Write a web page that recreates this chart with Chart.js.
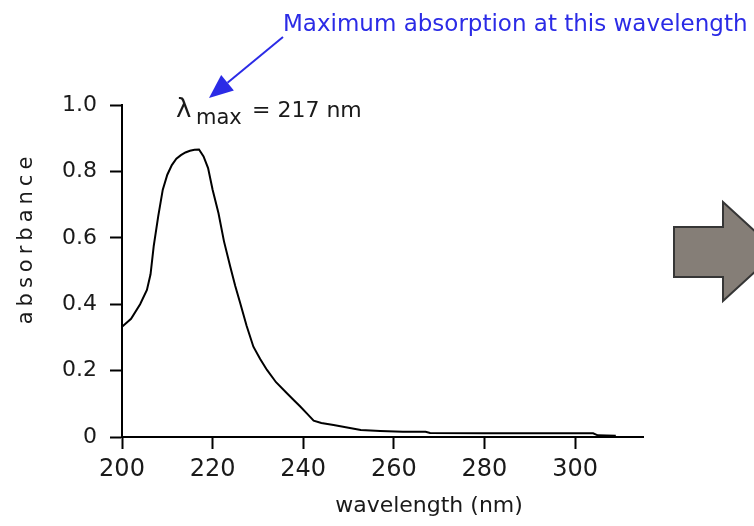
<!DOCTYPE html>
<html>
<head>
<meta charset="utf-8">
<title>UV absorption spectrum</title>
<script src="https://cdn.jsdelivr.net/npm/chart.js@4.4.1/dist/chart.umd.min.js"></script>
<style>
  html, body { margin: 0; padding: 0; background: #fff; }
  #wrap { position: relative; width: 754px; height: 526px; }
</style>
</head>
<body>
<div id="wrap"><canvas id="spectrum"></canvas></div>
<script>
// ---------------- spectrum data ----------------
// wavelength in nm, absorbance unitless
const wavelengths = [200, 202, 204, 205.5, 206.3, 207, 208, 209, 210, 211, 212, 213, 214, 215, 216, 217,
  218, 219, 220, 221.3, 222.5, 223.9, 225, 226.1, 227.5, 229, 230.5, 232, 234, 236.4, 238, 239.4, 241,
  242.3, 244, 246.7, 250, 252.7, 257, 262, 267, 268, 280, 295, 304, 305, 309]
const absorbance = [0.332, 0.356, 0.40, 0.443, 0.49, 0.575, 0.665, 0.745, 0.79, 0.819, 0.838, 0.849, 0.857,
  0.862, 0.865, 0.866, 0.845, 0.81, 0.745, 0.674, 0.59, 0.513, 0.455, 0.403, 0.335, 0.272, 0.235, 0.202,
  0.165, 0.132, 0.11, 0.091, 0.068, 0.049, 0.042, 0.036, 0.028, 0.021, 0.018, 0.016, 0.016, 0.012, 0.011,
  0.011, 0.011, 0.005, 0.004]

const xTicks = [200, 220, 240, 260, 280, 300]
const yTicks = [0, 0.2, 0.4, 0.6, 0.8, 1.0]
const lambdaMax = 217

const calloutText = 'Maximum absorption at this wavelength'
const xTitle = 'wavelength (nm)'
const yTitle = 'absorbance'

const FONT = '"DejaVu Sans", "Liberation Sans", sans-serif'
const INK = '#1a1a1a'

// ---------------- extra drawing: titles, callout, big arrow ----------------
const decorations = {
  id: 'decorations',
  afterDraw(chart) {
    const ctx = chart.ctx
    ctx.save()

    // blue callout and its arrow
    ctx.fillStyle = '#2b2be6'
    ctx.strokeStyle = '#2b2be6'
    ctx.font = `23px ${FONT}`
    ctx.textBaseline = 'alphabetic'
    ctx.textAlign = 'left'
    ctx.fillText(calloutText, 283, 31)

    const from = { x: 283, y: 37 }
    const tip = { x: 209, y: 98 }
    const dx = tip.x - from.x, dy = tip.y - from.y
    const len = Math.hypot(dx, dy)
    const ux = dx / len, uy = dy / len
    const headLen = 24, headHalf = 10
    const bx = tip.x - ux * headLen, by = tip.y - uy * headLen
    ctx.lineWidth = 2
    ctx.beginPath()
    ctx.moveTo(from.x, from.y)
    ctx.lineTo(bx, by)
    ctx.stroke()
    ctx.beginPath()
    ctx.moveTo(tip.x, tip.y)
    ctx.lineTo(bx - uy * headHalf, by + ux * headHalf)
    ctx.lineTo(bx + uy * headHalf, by - ux * headHalf)
    ctx.closePath()
    ctx.fill()

    // lambda max label
    ctx.fillStyle = INK
    ctx.font = `26px ${FONT}`
    ctx.fillText('\u03BB', 176, 117)
    ctx.font = `21px ${FONT}`
    ctx.fillText('max', 196, 124)
    ctx.font = `22px ${FONT}`
    ctx.fillText(`= ${lambdaMax} nm`, 252, 117)

    // axis titles
    ctx.font = `22px ${FONT}`
    ctx.textAlign = 'center'
    ctx.textBaseline = 'middle'
    ctx.fillText(xTitle, 429, 506)

    ctx.save()
    ctx.translate(27, 240)
    ctx.rotate(-Math.PI / 2)
    ctx.font = `21px ${FONT}`
    ctx.letterSpacing = '5px'
    ctx.fillText(yTitle, 2, 0)
    ctx.restore()

    // grey block arrow on the right
    ctx.fillStyle = '#857e77'
    ctx.strokeStyle = '#363636'
    ctx.lineWidth = 2
    ctx.beginPath()
    ctx.moveTo(674, 227)
    ctx.lineTo(723, 227)
    ctx.lineTo(723, 202)
    ctx.lineTo(777, 251.5)
    ctx.lineTo(723, 301)
    ctx.lineTo(723, 277)
    ctx.lineTo(674, 277)
    ctx.closePath()
    ctx.fill()
    ctx.stroke()

    ctx.restore()
  },
}

// ---------------- chart ----------------
const points = wavelengths.map((w, i) => ({ x: w, y: absorbance[i] }))

const chart = new Chart(document.getElementById('spectrum'), {
  type: 'line',
  data: {
    datasets: [
      {
        label: 'absorbance',
        data: points,
        borderColor: '#000',
        borderWidth: 2,
        pointRadius: 0,
        tension: 0,
        fill: false,
      },
    ],
  },
  options: {
    responsive: true,
    maintainAspectRatio: false,
    animation: false,
    layout: {
      padding: { top: 105, right: 111, bottom: 0, left: 0 },
    },
    scales: {
      x: {
        type: 'linear',
        min: 200,
        max: 315,
        afterBuildTicks: (scale) => {
          scale.ticks = xTicks.map((v) => ({ value: v }))
        },
        afterFit: (scale) => {
          scale.height = 526 - 437
        },
        border: { display: true, color: '#000', width: 2 },
        grid: {
          drawOnChartArea: false,
          drawTicks: true,
          tickLength: 12,
          tickWidth: 2,
          tickColor: '#000',
        },
        ticks: {
          color: INK,
          padding: 6,
          maxRotation: 0,
          font: { family: FONT, size: 24 },
        },
      },
      y: {
        type: 'linear',
        min: 0,
        max: 1,
        afterBuildTicks: (scale) => {
          scale.ticks = yTicks.map((v) => ({ value: v }))
        },
        afterFit: (scale) => {
          scale.width = 122
        },
        border: { display: true, color: '#000', width: 2 },
        grid: {
          drawOnChartArea: false,
          drawTicks: true,
          tickLength: 12,
          tickWidth: 2,
          tickColor: '#000',
        },
        ticks: {
          color: INK,
          padding: 13,
          font: { family: FONT, size: 22 },
          callback: (v) => (v === 0 ? '0' : v.toFixed(1)),
        },
      },
    },
    plugins: {
      legend: { display: false },
      tooltip: { enabled: false },
    },
  },
  plugins: [decorations],
})
</script>
</body>
</html>
